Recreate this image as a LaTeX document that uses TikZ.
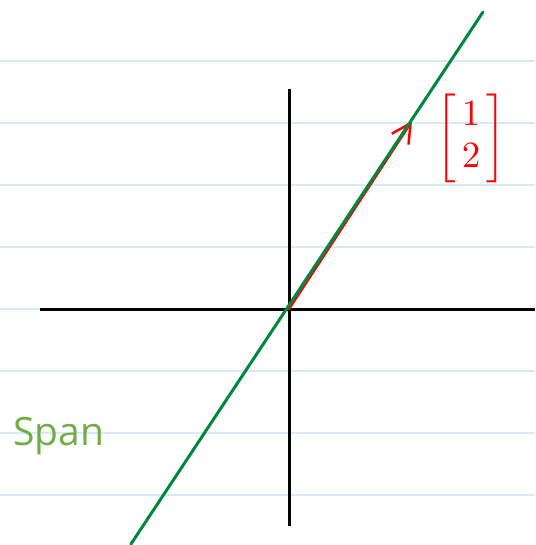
\documentclass[tikz,border=0pt]{standalone}
\usepackage{amsmath}
\usepackage{fontspec}
\newfontfamily\spanfont{Open Sans}
\usetikzlibrary{arrows.meta}
\definecolor{ruleblue}{RGB}{214,234,248}
\definecolor{spangreen}{RGB}{112,173,71}
\definecolor{linegreen}{RGB}{0,135,62}

\begin{document}
\begin{tikzpicture}[x=1pt, y=-1pt,
  rule/.style={draw=ruleblue, line width=2pt},
  axis/.style={line width=3pt, black},
  spanline/.style={line width=3pt, linegreen, line cap=round},
  vec/.style={-{Straight Barb[length=19pt, width=20pt]}, line width=2.5pt, red, line cap=round},
  lab/.style={inner sep=0pt}]
\useasboundingbox (0,0) rectangle (535,545);

% ruled paper
\foreach \y in {61,123,...,495}
  \draw[rule] (0,\y) -- (535,\y);

\coordinate (o) at (289,309);
\coordinate (xl) at (40,309);
\coordinate (xr) at (535,309);
\coordinate (yt) at (289,89);
\coordinate (yb) at (289,526);
\coordinate (v) at (412,121);
\coordinate (sa) at (131,544);
\coordinate (sb) at (483,12);

\draw[axis] (xl) -- (xr);
\draw[axis] (yt) -- (yb);
\draw[vec] (o) -- (v);
\draw[spanline] (sa) -- (sb);

\node[lab, text=red, scale=3.7] (vlab) at (471,138) {\renewcommand{\arraystretch}{0.95}$\begin{bmatrix}\,1\,\\\,2\,\end{bmatrix}$};
\node[lab, anchor=base west, text=spangreen, font=\spanfont\fontsize{39}{42}\selectfont] (span) at (13,445) {Span};
\end{tikzpicture}
\end{document}
